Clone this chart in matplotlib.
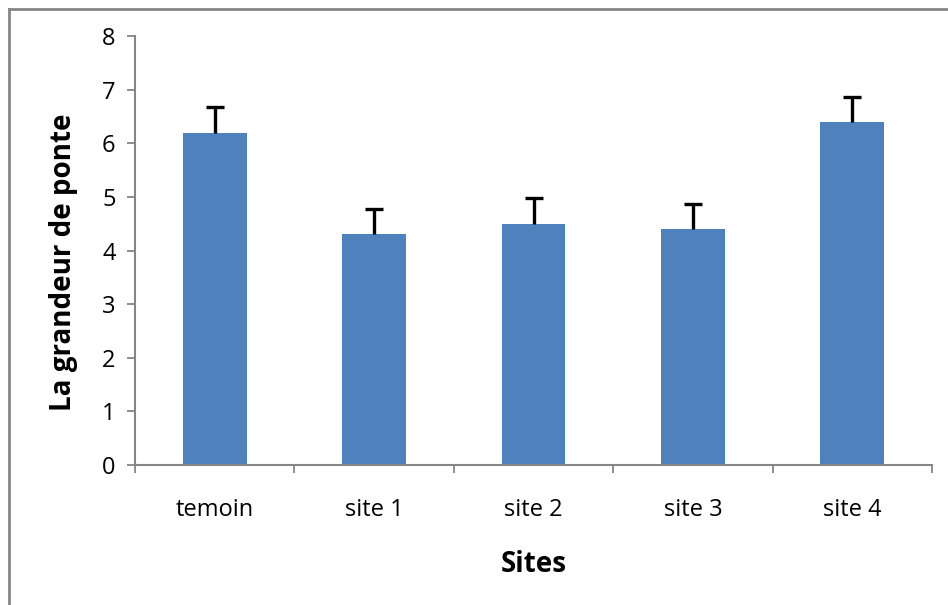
import matplotlib
matplotlib.use("Agg")
import matplotlib.pyplot as plt
from matplotlib.lines import Line2D

# Donnees
sites = ["temoin", "site 1", "site 2", "site 3", "site 4"]
grandeur = [6.2, 4.3, 4.5, 4.4, 6.4]
erreur = [0.47, 0.47, 0.47, 0.47, 0.47]
yticks = [0, 1, 2, 3, 4, 5, 6, 7, 8]

plt.rcParams["font.family"] = ["Open Sans", "DejaVu Sans"]
grey = "#868686"

fig = plt.figure(figsize=(9.48, 6.05), dpi=100)
ax = fig.add_axes([135 / 948, 1 - 465 / 605, 797 / 948, 429 / 605])

x = list(range(len(sites)))
haut = [g + e for g, e in zip(grandeur, erreur)]
ax.bar(x, grandeur, width=0.4, color="#4f81bd", zorder=2)
# barres d'erreur seulement vers le haut
ax.vlines(x, grandeur, haut, color="black", linewidth=2.4, zorder=3)
ax.plot(x, haut, linestyle="none", marker="_", markersize=13,
        markeredgewidth=2.4, color="black", zorder=3)

ax.set_xlim(-0.5, len(sites) - 0.5)
ax.set_ylim(0, 8)
ax.set_yticks(yticks)
ax.set_xticks(x)
ax.set_xticklabels(sites)
ax.set_xticks([i - 0.5 for i in range(len(sites) + 1)], minor=True)
ax.tick_params(axis="x", which="major", length=0, pad=24, labelsize=17)
ax.tick_params(axis="x", which="minor", length=6, color=grey, width=1.3)
ax.tick_params(axis="y", length=6, color=grey, width=1.3, labelsize=17, pad=8)

for s in ["top", "right"]:
    ax.spines[s].set_visible(False)
for s in ["left", "bottom"]:
    ax.spines[s].set_color(grey)
    ax.spines[s].set_linewidth(1.5)

ax.set_xlabel("Sites", fontsize=20, fontweight="bold", labelpad=20)
ax.set_ylabel("La grandeur de ponte", fontsize=20, fontweight="bold", labelpad=17)
ax.yaxis.label.set_y(0.473)

# cadre exterieur
fig.add_artist(Line2D([9 / 948, 9 / 948], [0, 1 - 9 / 605], transform=fig.transFigure,
                      color=grey, linewidth=2))
fig.add_artist(Line2D([9 / 948, 1], [1 - 9 / 605, 1 - 9 / 605], transform=fig.transFigure,
                      color=grey, linewidth=2))

fig.savefig("out.png", dpi=100)
plt.close(fig)
